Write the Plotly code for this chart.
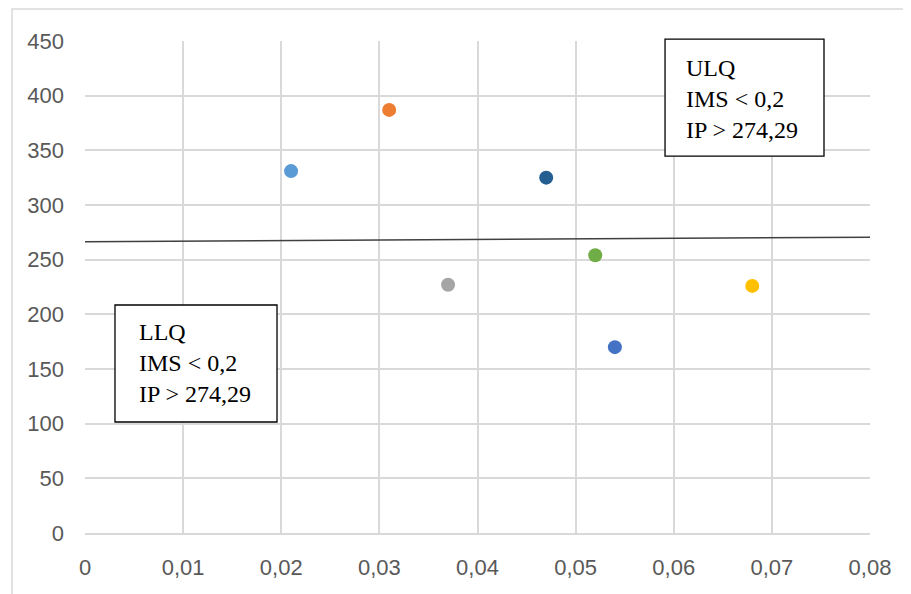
import plotly.graph_objects as go

# Data
ims = [0.021, 0.031, 0.037, 0.047, 0.052, 0.054, 0.068]
ip = [331, 387, 227, 325, 254, 170, 226]
colors = ["#5B9BD5", "#ED7D31", "#A5A5A5", "#255E91", "#70AD47", "#4472C4", "#FFC000"]
line_x = [0, 0.08]
line_y = [266.4, 270.5]
x_ticks = [0, 0.01, 0.02, 0.03, 0.04, 0.05, 0.06, 0.07, 0.08]
x_labels = ["0", "0,01", "0,02", "0,03", "0,04", "0,05", "0,06", "0,07", "0,08"]
y_ticks = [0, 50, 100, 150, 200, 250, 300, 350, 400, 450]

fig = go.Figure()
fig.add_trace(go.Scatter(x=line_x, y=line_y, mode="lines",
                         line=dict(color="#404040", width=1.5), hoverinfo="skip"))
for xv, yv, c in zip(ims, ip, colors):
    fig.add_trace(go.Scatter(x=[xv], y=[yv], mode="markers",
                             marker=dict(color=c, size=14, line=dict(width=0))))

tickfont = dict(family="Liberation Sans Narrow, Arial Narrow, Liberation Sans", size=22, color="#595959")
fig.update_layout(
    width=911, height=594,
    margin=dict(l=77, r=49, t=33, b=69),
    paper_bgcolor="white", plot_bgcolor="white",
    showlegend=False,
    xaxis=dict(range=[0, 0.08], tickvals=x_ticks, ticktext=x_labels,
               showgrid=True, gridcolor="#d9d9d9", gridwidth=1.5,
               zeroline=False, showline=True, linecolor="#d9d9d9", linewidth=1.5,
               ticks="", ticklabelstandoff=14, tickfont=tickfont, mirror=False),
    yaxis=dict(range=[0, 450], tickvals=y_ticks,
               showgrid=True, gridcolor="#d9d9d9", gridwidth=1.5,
               zeroline=False, showline=False,
               ticks="", ticklabelstandoff=20, tickfont=tickfont),
)

shapes = [
    dict(type="rect", xref="paper", yref="paper", x0=-0.093, x1=1.2, y0=-0.3, y1=1.065,
         line=dict(color="#d9d9d9", width=1.5), fillcolor="rgba(0,0,0,0)", layer="below"),
    dict(type="rect", xref="paper", yref="paper", x0=0.0382, x1=0.2446, y0=0.2256, y1=0.4634,
         line=dict(color="black", width=1.3), fillcolor="white", layer="above"),
    dict(type="rect", xref="paper", yref="paper", x0=0.7389, x1=0.9414, y0=0.766, y1=1.004,
         line=dict(color="black", width=1.3), fillcolor="white", layer="above"),
]
fig.update_layout(shapes=shapes)

boxfont = dict(family="Liberation Serif, Times New Roman, serif", size=24, color="black")
fig.add_annotation(xref="paper", yref="paper", x=0.0662, y=0.3455, xanchor="left", yanchor="middle",
                   text="LLQ<br>IMS &lt; 0,2<br>IP &gt; 274,29", showarrow=False, align="left", font=boxfont)
fig.add_annotation(xref="paper", yref="paper", x=0.763, y=0.882, xanchor="left", yanchor="middle",
                   text="ULQ<br>IMS &lt; 0,2<br>IP &gt; 274,29", showarrow=False, align="left", font=boxfont)

fig.write_html("out.html")
